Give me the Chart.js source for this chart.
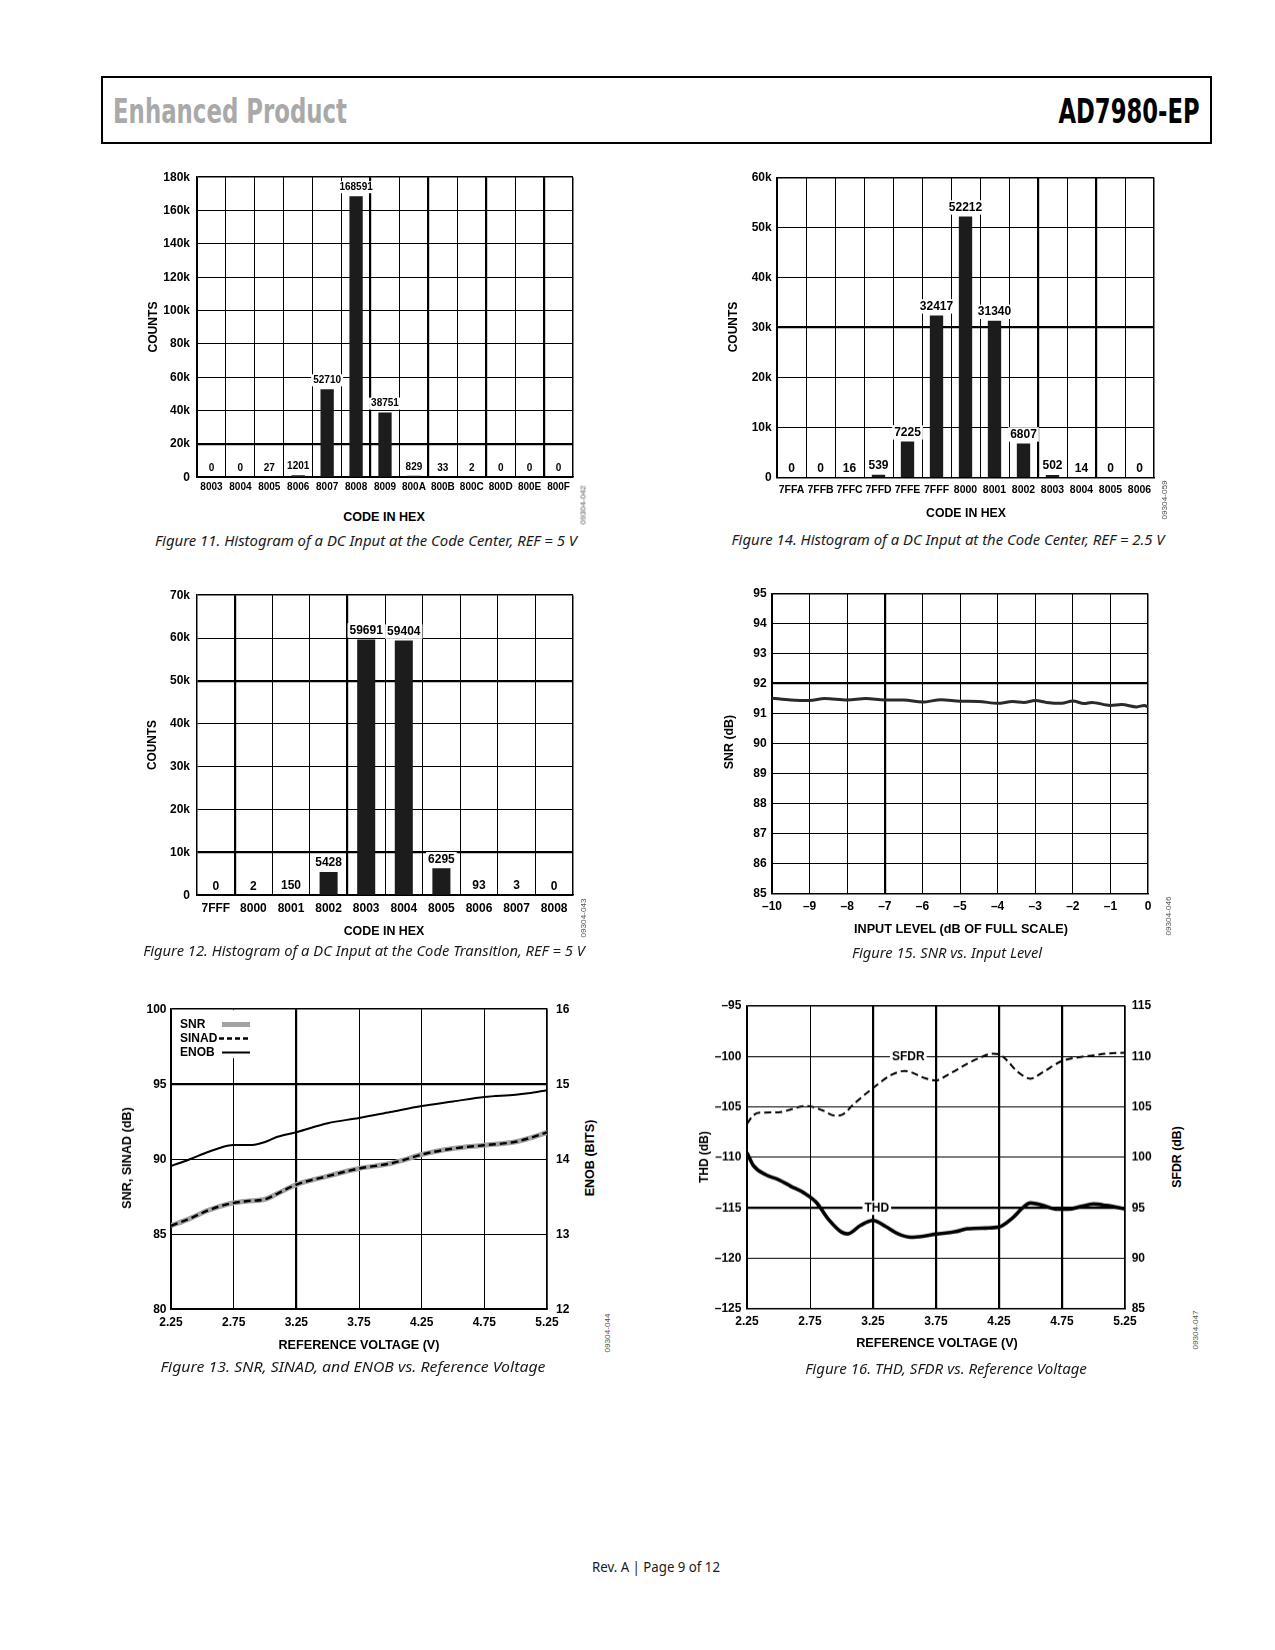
<!DOCTYPE html>
<html lang="en">
<head>
<meta charset="UTF-8">
<title>AD7980-EP Typical Performance Characteristics</title>
<script src="https://cdn.jsdelivr.net/npm/chart.js"></script>
<style>
  body { margin: 0; background: #fff; }
  #page { position: relative; width: 1275px; height: 1650px; overflow: hidden; background: #fff; }
  canvas { position: absolute; }
  .t { position: absolute; white-space: nowrap; line-height: 1; }
  .ax { font: bold 12px "Liberation Sans", Arial, sans-serif; color: #000; }
  .cap { font: italic 15px "Noto Sans", "Open Sans", sans-serif; color: #1a1a1a; }
  .id { font: 8px "Liberation Sans", Arial, sans-serif; color: #555; }
  .hd { font: bold 34px "Liberation Sans Narrow", "DejaVu Sans Condensed", "Liberation Sans", Arial, sans-serif; }
  #headbox { position: absolute; left: 101px; top: 76px; width: 1111px; height: 68px; box-sizing: border-box; border: 2px solid #000; }
</style>
</head>
<body>
<div id="page">
  <div id="headbox"></div>
  <div class="t hd" style="color:#a9a9a9" data-x="230" data-y="110.5" data-w="234">Enhanced Product</div>
  <div class="t hd" style="color:#000" data-x="1128.5" data-y="110.5" data-w="141">AD7980-EP</div>

  <!-- rough canvas boxes; pin() below nudges them so each plot area lands on the original -->
  <canvas id="fig11" width="431" height="340" style="left:152px;top:167px"></canvas>
  <canvas id="fig14" width="432" height="340" style="left:732px;top:167px"></canvas>
  <canvas id="fig12" width="431" height="340" style="left:152px;top:585px"></canvas>
  <canvas id="fig15" width="431" height="340" style="left:727px;top:583px"></canvas>
  <canvas id="fig13" width="456" height="340" style="left:126px;top:999px"></canvas>
  <canvas id="fig16" width="463" height="342" style="left:702px;top:996px"></canvas>

  <!-- Figure 11 -->
  <div class="t ax" data-x="153" data-y="326.7" data-w="51" data-r="-90">COUNTS</div>
  <div class="t ax" data-x="384.3" data-y="517.3" data-w="81.7">CODE IN HEX</div>
  <div class="t id" data-x="583" data-y="504.7" data-w="39" data-r="-90">09304-042</div>
  <div class="t cap" data-x="365.5" data-y="540" data-w="422">Figure 11. Histogram of a DC Input at the Code Center, REF = 5 V</div>

  <!-- Figure 14 -->
  <div class="t ax" data-x="733" data-y="326.7" data-w="50.7" data-r="-90">COUNTS</div>
  <div class="t ax" data-x="965.7" data-y="512.7" data-w="80">CODE IN HEX</div>
  <div class="t id" data-x="1164" data-y="500" data-w="39" data-r="-90">09304-059</div>
  <div class="t cap" data-x="947.5" data-y="539" data-w="433">Figure 14. Histogram of a DC Input at the Code Center, REF = 2.5 V</div>

  <!-- Figure 12 -->
  <div class="t ax" data-x="152" data-y="745" data-w="50" data-r="-90">COUNTS</div>
  <div class="t ax" data-x="384.3" data-y="930.7" data-w="80.7">CODE IN HEX</div>
  <div class="t id" data-x="583.3" data-y="918" data-w="39" data-r="-90">09304-043</div>
  <div class="t cap" data-x="364.2" data-y="950" data-w="441.7">Figure 12. Histogram of a DC Input at the Code Transition, REF = 5 V</div>

  <!-- Figure 15 -->
  <div class="t ax" data-x="729" data-y="742.3" data-w="54.3" data-r="-90">SNR (dB)</div>
  <div class="t ax" data-x="961" data-y="929" data-w="214">INPUT LEVEL (dB OF FULL SCALE)</div>
  <div class="t id" data-x="1168.3" data-y="915.7" data-w="39" data-r="-90">09304-046</div>
  <div class="t cap" data-x="946.7" data-y="952" data-w="190">Figure 15. SNR vs. Input Level</div>

  <!-- Figure 13 -->
  <div class="t ax" data-x="127" data-y="1157.7" data-w="101.7" data-r="-90">SNR, SINAD (dB)</div>
  <div class="t ax" data-x="590" data-y="1158.3" data-w="76.7" data-r="-90">ENOB (BITS)</div>
  <div class="t ax" data-x="358.7" data-y="1345" data-w="161">REFERENCE VOLTAGE (V)</div>
  <div class="t id" data-x="606.7" data-y="1333" data-w="39" data-r="-90">09304-044</div>
  <div class="t cap" data-x="352.5" data-y="1366" data-w="385">Figure 13. SNR, SINAD, and ENOB vs. Reference Voltage</div>

  <!-- Figure 16 -->
  <div class="t ax" data-x="704" data-y="1157.3" data-w="51.7" data-r="-90">THD (dB)</div>
  <div class="t ax" data-x="1177.3" data-y="1157.3" data-w="61.7" data-r="-90">SFDR (dB)</div>
  <div class="t ax" data-x="936.7" data-y="1343" data-w="161.7">REFERENCE VOLTAGE (V)</div>
  <div class="t id" data-x="1195" data-y="1330" data-w="39" data-r="-90">09304-047</div>
  <div class="t cap" data-x="946" data-y="1368" data-w="281.7">Figure 16. THD, SFDR vs. Reference Voltage</div>

  <div class="t" style="font:14px 'Noto Sans','Open Sans',sans-serif;color:#1a1a1a" data-x="655.8" data-y="1566" data-w="128">Rev. A | Page 9 of 12</div>
</div>

<script>
  // ---- Figure 11: histogram at code center, REF = 5 V
  const fig11Codes = ['8003', '8004', '8005', '8006', '8007', '8008', '8009', '800A', '800B', '800C', '800D', '800E', '800F'];
  const fig11Counts = [0, 0, 27, 1201, 52710, 168591, 38751, 829, 33, 2, 0, 0, 0];

  // ---- Figure 14: histogram at code center, REF = 2.5 V
  const fig14Codes = ['7FFA', '7FFB', '7FFC', '7FFD', '7FFE', '7FFF', '8000', '8001', '8002', '8003', '8004', '8005', '8006'];
  const fig14Counts = [0, 0, 16, 539, 7225, 32417, 52212, 31340, 6807, 502, 14, 0, 0];

  // ---- Figure 12: histogram at code transition, REF = 5 V
  const fig12Codes = ['7FFF', '8000', '8001', '8002', '8003', '8004', '8005', '8006', '8007', '8008'];
  const fig12Counts = [0, 2, 150, 5428, 59691, 59404, 6295, 93, 3, 0];

  // ---- Figure 15: SNR vs input level
  const fig15Level = [-10, -9.5, -9, -8.6, -8, -7.5, -7, -6.5, -6, -5.5, -5, -4.5, -4, -3.6, -3.3, -3, -2.7, -2.3, -2, -1.7, -1.5, -1, -0.7, -0.3, -0.1, 0];
  const fig15Snr = [91.51, 91.45, 91.43, 91.5, 91.45, 91.5, 91.45, 91.45, 91.38, 91.46, 91.41, 91.4, 91.34, 91.4, 91.37, 91.43, 91.37, 91.34, 91.42, 91.33, 91.37, 91.27, 91.3, 91.22, 91.27, 91.22];
  const fig15XTicks = [-10, -9, -8, -7, -6, -5, -4, -3, -2, -1, 0];
  const fig15YTicks = [85, 86, 87, 88, 89, 90, 91, 92, 93, 94, 95];

  // ---- Figure 13: SNR, SINAD, ENOB vs reference voltage
  const fig13Vref = [2.25, 2.4, 2.55, 2.7, 2.85, 3.0, 3.1, 3.25, 3.5, 3.75, 4.0, 4.1, 4.25, 4.5, 4.75, 5.0, 5.1, 5.25];
  const fig13Snr = [85.56, 86.04, 86.6, 87.0, 87.2, 87.33, 87.71, 88.31, 88.87, 89.38, 89.71, 89.93, 90.31, 90.71, 90.93, 91.16, 91.38, 91.78];
  const fig13Sinad = [85.56, 86.04, 86.6, 87.0, 87.2, 87.33, 87.71, 88.31, 88.87, 89.38, 89.71, 89.93, 90.31, 90.71, 90.93, 91.16, 91.38, 91.78];
  const fig13EnobVref = [2.25, 2.4, 2.55, 2.7, 2.75, 2.9, 3.0, 3.1, 3.25, 3.5, 3.75, 4.0, 4.25, 4.5, 4.75, 5.0, 5.1, 5.25];
  const fig13Enob = [13.91, 14.0, 14.1, 14.18, 14.19, 14.19, 14.23, 14.3, 14.36, 14.48, 14.55, 14.63, 14.71, 14.77, 14.83, 14.86, 14.88, 14.92];

  // ---- Figure 16: THD, SFDR vs reference voltage
  const fig16ThdVref = [2.25, 2.3, 2.4, 2.5, 2.6, 2.7, 2.8, 2.9, 3.0, 3.05, 3.15, 3.25, 3.35, 3.45, 3.55, 3.65, 3.75, 3.9, 4.0, 4.15, 4.25, 4.35, 4.45, 4.5, 4.6, 4.7, 4.8, 4.9, 5.0, 5.1, 5.25];
  const fig16Thd = [-109.54, -110.79, -111.72, -112.21, -112.87, -113.5, -114.46, -116.18, -117.4, -117.57, -116.74, -116.24, -116.84, -117.57, -117.9, -117.8, -117.6, -117.37, -117.07, -117.0, -116.9, -116.08, -114.86, -114.52, -114.76, -115.12, -115.12, -114.86, -114.62, -114.76, -115.09];
  const fig16SfdrVref = [2.25, 2.3, 2.35, 2.5, 2.6, 2.7, 2.75, 2.85, 2.95, 3.0, 3.1, 3.25, 3.4, 3.5, 3.55, 3.65, 3.75, 3.85, 4.0, 4.1, 4.2, 4.25, 4.3, 4.4, 4.5, 4.6, 4.75, 4.9, 5.0, 5.1, 5.25];
  const fig16Sfdr = [103.34, 104.16, 104.43, 104.46, 104.76, 105.09, 105.06, 104.66, 104.13, 104.2, 105.32, 106.87, 108.19, 108.56, 108.45, 107.9, 107.63, 108.23, 109.28, 109.88, 110.28, 110.21, 109.78, 108.46, 107.8, 108.46, 109.55, 109.95, 110.11, 110.28, 110.37];

  const vrefTicks = [2.25, 2.75, 3.25, 3.75, 4.25, 4.75, 5.25];

  // place and squeeze html text to the widths measured on the original page
  document.querySelectorAll('.t').forEach(el => {
    el.style.left = el.dataset.x + 'px';
    el.style.top = el.dataset.y + 'px';
    const w = +el.dataset.w;
    const k = w ? w / el.getBoundingClientRect().width : 1;
    el.style.transform = `translate(-50%,-50%) rotate(${el.dataset.r || 0}deg) scaleX(${k})`;
  });

  Chart.defaults.font.family = '"Liberation Sans", Arial, sans-serif';
  Chart.defaults.font.weight = 'bold';
  Chart.defaults.color = '#000';
  Chart.defaults.animation = false;
  Chart.defaults.responsive = false;
  Chart.defaults.maintainAspectRatio = false;
  Chart.defaults.devicePixelRatio = 1;
  Chart.defaults.plugins.legend.display = false;
  Chart.defaults.plugins.tooltip.enabled = false;

  const FONT = '"Liberation Sans", Arial, sans-serif';
  const dash = v => (v < 0 ? '\u2013' + Math.abs(v) : String(v));
  const pts = (xs, ys) => xs.map((x, i) => ({ x: x, y: ys[i] }));
  const fixTicks = list => s => { s.ticks = list.map(v => ({ value: v })); };

  // move / resize the canvas until the plot area sits on [left, top, right, bottom]
  function pin(chart, box) {
    const cv = chart.canvas;
    for (let k = 0; k < 3; k++) {
      const a = chart.chartArea;
      const x0 = parseFloat(cv.style.left), y0 = parseFloat(cv.style.top);
      cv.style.left = (x0 + box[0] - (x0 + a.left)) + 'px';
      cv.style.top = (y0 + box[1] - (y0 + a.top)) + 'px';
      const dw = (box[2] - box[0]) - (a.right - a.left);
      const dh = (box[3] - box[1]) - (a.bottom - a.top);
      if (Math.abs(dw) > 0.2 || Math.abs(dh) > 0.2) chart.resize(chart.width + dw, chart.height + dh);
    }
  }

  // value printed above each bar, on a white patch that cuts the grid
  const barLabels = {
    id: 'barLabels',
    afterDatasetsDraw(chart, args, opts) {
      const { ctx } = chart;
      const ds = chart.data.datasets[0];
      ctx.save();
      ctx.font = `bold ${opts.size}px ${FONT}`;
      ctx.textAlign = 'center';
      ctx.textBaseline = 'middle';
      chart.getDatasetMeta(0).data.forEach((bar, i) => {
        const txt = String(ds.data[i]);
        const y = bar.y - opts.lift;
        const w = ctx.measureText(txt).width + 4;
        ctx.fillStyle = '#fff';
        ctx.fillRect(bar.x - w / 2, y - opts.size * 0.6, w, opts.size * 1.2);
        ctx.fillStyle = '#000';
        ctx.fillText(txt, bar.x, y);
      });
      ctx.restore();
    }
  };

  function histogram(id, codes, counts, o) {
    return new Chart(document.getElementById(id), {
      type: 'bar',
      data: {
        labels: codes,
        datasets: [{ data: counts, backgroundColor: '#1c1c1c', barPercentage: o.bar, categoryPercentage: 1 }]
      },
      options: {
        layout: { padding: { top: 10, right: 10, left: 0, bottom: 0 } },
        scales: {
          x: {
            grid: {
              color: '#000', drawTicks: false,
              lineWidth: c => (c.index === undefined ? 1.5 : (o.thickX.includes(c.index) ? 2.2 : 1))
            },
            border: { color: '#000', width: 1.5 },
            ticks: { font: { size: o.xFont }, padding: o.xPad, maxRotation: 0, autoSkip: false },
            afterFit: s => { s.height = 30; }
          },
          y: {
            min: 0, max: o.max,
            grid: {
              color: '#000', drawTicks: false,
              lineWidth: c => {
                const v = c.tick ? c.tick.value : 0;
                return v === o.max ? 1.5 : (o.thickY.includes(v) ? 2.2 : 1);
              }
            },
            border: { color: '#000', width: 1.5 },
            ticks: { stepSize: o.step, font: { size: 12 }, padding: o.yPad, callback: v => (v === 0 ? '0' : v / 1000 + 'k') },
            afterFit: s => { s.width = 45; }
          }
        },
        plugins: { barLabels: { size: o.labelFont, lift: 9 } }
      },
      plugins: [barLabels]
    });
  }

  const fig11 = histogram('fig11', fig11Codes, fig11Counts, { max: 180000, step: 20000, bar: 0.46, xFont: 10, xPad: 4.5, yPad: 7, labelFont: 10, thickX: [6, 8, 10, 12], thickY: [20000] });
  const fig14 = histogram('fig14', fig14Codes, fig14Counts, { max: 60000, step: 10000, bar: 0.46, xFont: 10.5, xPad: 6.4, yPad: 5.3, labelFont: 12, thickX: [9, 11], thickY: [30000] });
  const fig12 = histogram('fig12', fig12Codes, fig12Counts, { max: 70000, step: 10000, bar: 0.48, xFont: 12, xPad: 5.8, yPad: 7, labelFont: 12, thickX: [1, 4], thickY: [50000, 10000] });

  function gridWidth(thick, edge) {
    return c => {
      const v = c.tick ? c.tick.value : null;
      if (v === edge) return 1.5;
      return thick.includes(v) ? 2.2 : 1;
    };
  }

  // ---- Figure 15
  const fig15 = new Chart(document.getElementById('fig15'), {
    type: 'line',
    data: {
      datasets: [{
        data: pts(fig15Level, fig15Snr), borderColor: '#2a2a2a', borderWidth: 3,
        pointRadius: 0, cubicInterpolationMode: 'monotone'
      }]
    },
    options: {
      layout: { padding: { top: 10, right: 10, left: 0, bottom: 0 } },
      scales: {
        x: {
          type: 'linear', min: -10, max: 0, afterBuildTicks: fixTicks(fig15XTicks),
          grid: { color: '#000', drawTicks: false, lineWidth: gridWidth([-7], 0) },
          border: { color: '#000', width: 1.5 },
          ticks: { font: { size: 12 }, padding: 5.8, maxRotation: 0, callback: dash },
          afterFit: s => { s.height = 30; }
        },
        y: {
          min: 85, max: 95, afterBuildTicks: fixTicks(fig15YTicks),
          grid: { color: '#000', drawTicks: false, lineWidth: gridWidth([92], 95) },
          border: { color: '#000', width: 1.5 },
          ticks: { font: { size: 12 }, padding: 5.3 },
          afterFit: s => { s.width = 45; }
        }
      }
    }
  });

  // ---- Figure 13: legend drawn in the top-left corner of the plot
  const cornerLegend = {
    id: 'cornerLegend',
    afterDraw(chart) {
      const { ctx, chartArea: a } = chart;
      ctx.save();
      ctx.fillStyle = '#fff';
      ctx.fillRect(a.left + 1, a.top + 1, 84, 48);
      ctx.font = `bold 12px ${FONT}`;
      ctx.textBaseline = 'middle';
      chart.data.datasets.forEach((ds, i) => {
        const y = a.top + 15.3 + i * 14;
        ctx.fillStyle = '#000';
        ctx.fillText(ds.label, a.left + 9, y);
        ctx.strokeStyle = ds.borderColor;
        ctx.lineWidth = ds.borderWidth;
        ctx.setLineDash(ds.borderDash ? [5, 3] : []);
        ctx.beginPath();
        ctx.moveTo(a.left + (ds.borderDash ? 48 : 51), y);
        ctx.lineTo(a.left + 79, y);
        ctx.stroke();
      });
      ctx.restore();
    }
  };

  const fig13 = new Chart(document.getElementById('fig13'), {
    type: 'line',
    data: {
      datasets: [
        { label: 'SNR', data: pts(fig13Vref, fig13Snr), yAxisID: 'y', borderColor: '#a3a3a3', borderWidth: 5, pointRadius: 0, cubicInterpolationMode: 'monotone', order: 3 },
        { label: 'SINAD', data: pts(fig13Vref, fig13Sinad), yAxisID: 'y', borderColor: '#000', borderWidth: 2.4, borderDash: [7, 4], pointRadius: 0, cubicInterpolationMode: 'monotone', order: 2 },
        { label: 'ENOB', data: pts(fig13EnobVref, fig13Enob), yAxisID: 'y2', borderColor: '#000', borderWidth: 2, pointRadius: 0, cubicInterpolationMode: 'monotone', order: 1 }
      ]
    },
    options: {
      layout: { padding: { top: 10, right: 0, left: 0, bottom: 0 } },
      scales: {
        x: {
          type: 'linear', min: 2.25, max: 5.25, afterBuildTicks: fixTicks(vrefTicks),
          grid: { color: '#000', drawTicks: false, lineWidth: gridWidth([3.25], 5.25) },
          border: { color: '#000', width: 1.5 },
          ticks: { font: { size: 12 }, padding: 5.8, maxRotation: 0, callback: v => v.toFixed(2) },
          afterFit: s => { s.height = 30; }
        },
        y: {
          min: 80, max: 100, ticks: { stepSize: 5, font: { size: 12 }, padding: 4.5 },
          grid: { color: '#000', drawTicks: false, lineWidth: gridWidth([95], 100) },
          border: { color: '#000', width: 1.5 },
          afterFit: s => { s.width = 45; }
        },
        y2: {
          position: 'right', min: 12, max: 16, ticks: { stepSize: 1, font: { size: 12 }, padding: 9 },
          grid: { display: false, drawTicks: false },
          border: { color: '#000', width: 1.5 },
          afterFit: s => { s.width = 35; }
        }
      }
    },
    plugins: [cornerLegend]
  });

  // ---- Figure 16: curve names sit on the grid with a white patch
  const curveNames = {
    id: 'curveNames',
    afterDraw(chart, args, opts) {
      const { ctx } = chart;
      ctx.save();
      ctx.font = `bold 12px ${FONT}`;
      ctx.textAlign = 'center';
      ctx.textBaseline = 'middle';
      opts.items.forEach(it => {
        const x = chart.scales.x.getPixelForValue(it.x);
        const y = chart.scales[it.axis].getPixelForValue(it.y);
        const w = ctx.measureText(it.text).width + 4;
        ctx.fillStyle = '#fff';
        ctx.fillRect(x - w / 2, y - 7, w, 14);
        ctx.fillStyle = '#000';
        ctx.fillText(it.text, x, y);
      });
      ctx.restore();
    }
  };

  const fig16 = new Chart(document.getElementById('fig16'), {
    type: 'line',
    data: {
      datasets: [
        { label: 'THD', data: pts(fig16ThdVref, fig16Thd), yAxisID: 'y', borderColor: '#000', borderWidth: 3.6, pointRadius: 0, cubicInterpolationMode: 'monotone' },
        { label: 'SFDR', data: pts(fig16SfdrVref, fig16Sfdr), yAxisID: 'y2', borderColor: '#000', borderWidth: 2, borderDash: [7, 4], pointRadius: 0, cubicInterpolationMode: 'monotone' }
      ]
    },
    options: {
      layout: { padding: { top: 10, right: 0, left: 0, bottom: 0 } },
      scales: {
        x: {
          type: 'linear', min: 2.25, max: 5.25, afterBuildTicks: fixTicks(vrefTicks),
          grid: { color: '#000', drawTicks: false, lineWidth: gridWidth([3.25, 3.75, 4.25, 4.75], 5.25) },
          border: { color: '#000', width: 1.5 },
          ticks: { font: { size: 12 }, padding: 5.8, maxRotation: 0, callback: v => v.toFixed(2) },
          afterFit: s => { s.height = 30; }
        },
        y: {
          min: -125, max: -95, ticks: { stepSize: 5, font: { size: 12 }, padding: 5.6, callback: dash },
          grid: { color: '#000', drawTicks: false, lineWidth: gridWidth([-115], -95) },
          border: { color: '#000', width: 1.5 },
          afterFit: s => { s.width = 45; }
        },
        y2: {
          position: 'right', min: 85, max: 115, ticks: { stepSize: 5, font: { size: 12 }, padding: 6.7 },
          grid: { display: false, drawTicks: false },
          border: { color: '#000', width: 1.5 },
          afterFit: s => { s.width = 40; }
        }
      },
      plugins: {
        curveNames: {
          items: [
            { text: 'SFDR', x: 3.53, y: 110, axis: 'y2' },
            { text: 'THD', x: 3.28, y: -115, axis: 'y' }
          ]
        }
      }
    },
    plugins: [curveNames]
  });

  pin(fig11, [197, 177, 573, 477]);
  pin(fig14, [777, 177, 1154, 477]);
  pin(fig12, [197, 595, 573, 895]);
  pin(fig15, [772, 593, 1148, 893]);
  pin(fig13, [171, 1009, 547, 1309]);
  pin(fig16, [747, 1006, 1125, 1308]);
</script>
</body>
</html>
